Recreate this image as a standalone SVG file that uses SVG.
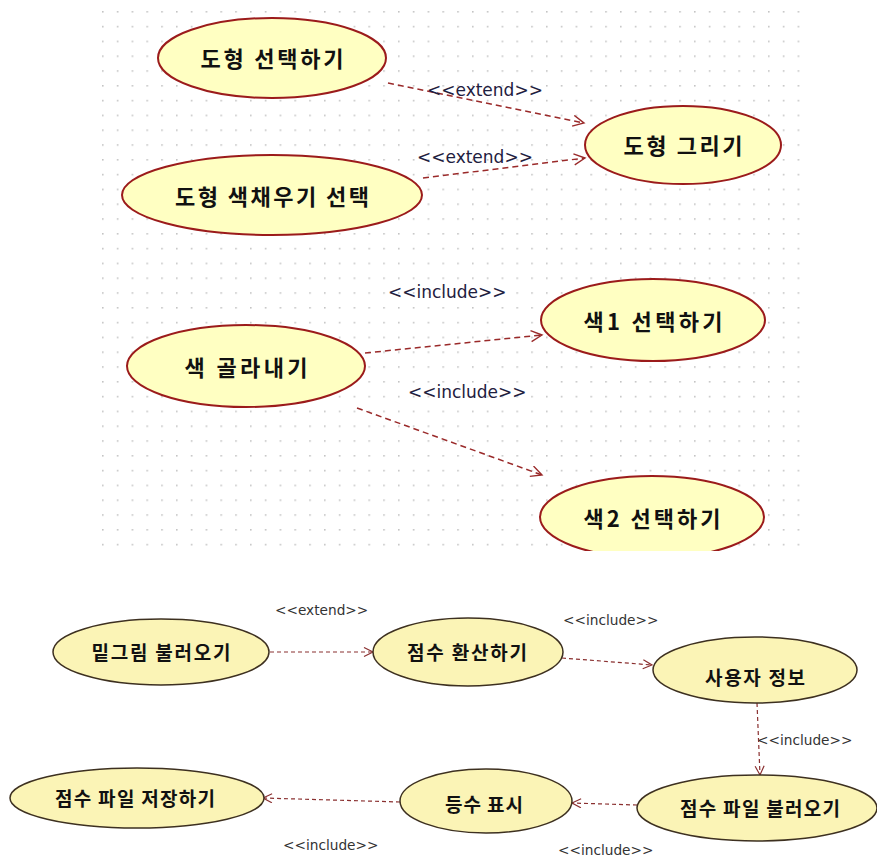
<svg xmlns="http://www.w3.org/2000/svg" width="877" height="858" viewBox="0 0 877 858">
<defs>
<pattern id="grid" x="102" y="11" width="14.8" height="14.8" patternUnits="userSpaceOnUse">
<rect x="0" y="0" width="1.6" height="1.6" fill="#c4c4c4"/>
</pattern>
<marker id="arrTop" markerUnits="userSpaceOnUse" markerWidth="14" markerHeight="14" refX="12" refY="6" orient="auto">
<path d="M1,0.5 L12,6 L1,11.5" fill="none" stroke="#9a2a2a" stroke-width="1.4"/>
</marker>
<marker id="arrBot" markerUnits="userSpaceOnUse" markerWidth="12" markerHeight="12" refX="10" refY="5" orient="auto">
<path d="M1,0.5 L10,5 L1,9.5" fill="none" stroke="#8a3030" stroke-width="1.2"/>
</marker>
<clipPath id="cut"><rect x="0" y="0" width="877" height="551"/></clipPath>
<style>
.top ellipse{fill:#ffffc2;stroke:#9b1b1b;stroke-width:2}
.bot ellipse{fill:#fbf4b6;stroke:#3d3020;stroke-width:1.5}
.tt{font-family:"Noto Sans CJK KR","Noto Sans",sans-serif;font-weight:bold;font-size:22px;fill:#111;text-anchor:middle}
.bt{font-family:"Noto Sans CJK KR","Noto Sans",sans-serif;font-weight:bold;font-size:19px;fill:#111;text-anchor:middle}
.tl{font-family:"DejaVu Sans",sans-serif;font-size:17px;fill:#1e2040}
.bl{font-family:"DejaVu Sans",sans-serif;font-size:13.7px;fill:#333}
.ct{fill:none;stroke:#9a2a2a;stroke-width:1.5;stroke-dasharray:6,4;marker-end:url(#arrTop)}
.cb{fill:none;stroke:#8a3030;stroke-width:1.2;stroke-dasharray:4,3;marker-end:url(#arrBot)}
</style>
</defs>
<rect x="0" y="0" width="877" height="858" fill="#ffffff"/>
<rect x="100" y="5" width="702" height="545" fill="url(#grid)"/>

<g id="connectors">
<path class="ct" d="M388,83 L584,123"/>
<path class="ct" d="M423,178 L585,158"/>
<path class="ct" d="M365,353 L542,335"/>
<path class="ct" d="M357,408 L542,475"/>
<path class="cb" d="M270,652 L373,652"/>
<path class="cb" d="M562,658 L652,665"/>
<path class="cb" d="M757,703 L760,775"/>
<path class="cb" d="M637,805 L572,803"/>
<path class="cb" d="M400,802 L263,798"/>
<text class="tl" x="427" y="96">&lt;&lt;extend&gt;&gt;</text>
<text class="tl" x="417" y="163">&lt;&lt;extend&gt;&gt;</text>
<text class="tl" x="388" y="298">&lt;&lt;include&gt;&gt;</text>
<text class="tl" x="408" y="398">&lt;&lt;include&gt;&gt;</text>
<text class="bl" x="275" y="615">&lt;&lt;extend&gt;&gt;</text>
<text class="bl" x="563" y="625">&lt;&lt;include&gt;&gt;</text>
<text class="bl" x="757" y="745">&lt;&lt;include&gt;&gt;</text>
<text class="bl" x="558" y="855">&lt;&lt;include&gt;&gt;</text>
<text class="bl" x="283" y="850">&lt;&lt;include&gt;&gt;</text>
</g>

<g class="top">
<g id="n_select_shape"><ellipse cx="272" cy="58" rx="114" ry="40"/><text class="tt" x="272" y="67" textLength="143" lengthAdjust="spacing">도형 선택하기</text></g>
<g id="n_fill_shape"><ellipse cx="272" cy="195" rx="150" ry="40"/><text class="tt" x="272" y="205" textLength="194" lengthAdjust="spacing">도형 색채우기 선택</text></g>
<g id="n_draw_shape"><ellipse cx="683" cy="145" rx="98" ry="39"/><text class="tt" x="683" y="154" textLength="119" lengthAdjust="spacing">도형 그리기</text></g>
<g id="n_pick_color"><ellipse cx="246" cy="366" rx="119" ry="41"/><text class="tt" x="246" y="376" textLength="123" lengthAdjust="spacing">색 골라내기</text></g>
<g id="n_color1"><ellipse cx="653" cy="320" rx="112" ry="41"/><text class="tt" x="653" y="330" textLength="139" lengthAdjust="spacing">색1 선택하기</text></g>
<g id="n_color2" clip-path="url(#cut)"><ellipse cx="652" cy="517" rx="112" ry="41"/><text class="tt" x="652" y="527" textLength="137" lengthAdjust="spacing">색2 선택하기</text></g>
</g>

<g class="bot">
<g id="n_load_sketch"><ellipse cx="161" cy="652" rx="108" ry="33"/><text class="bt" x="161" y="660" textLength="139" lengthAdjust="spacing">밑그림 불러오기</text></g>
<g id="n_convert_score"><ellipse cx="468" cy="652" rx="95" ry="34"/><text class="bt" x="467" y="660" textLength="120" lengthAdjust="spacing">점수 환산하기</text></g>
<g id="n_user_info"><ellipse cx="755" cy="670" rx="102" ry="33"/><text class="bt" x="755" y="685" textLength="100" lengthAdjust="spacing">사용자 정보</text></g>
<g id="n_save_score"><ellipse cx="137" cy="798" rx="127" ry="30"/><text class="bt" x="135" y="806" textLength="160" lengthAdjust="spacing">점수 파일 저장하기</text></g>
<g id="n_rank"><ellipse cx="486" cy="801" rx="86" ry="32"/><text class="bt" x="484" y="812" textLength="78" lengthAdjust="spacing">등수 표시</text></g>
<g id="n_load_score"><ellipse cx="757" cy="808" rx="120" ry="33"/><text class="bt" x="760" y="816" textLength="160" lengthAdjust="spacing">점수 파일 불러오기</text></g>
</g>
</svg>
